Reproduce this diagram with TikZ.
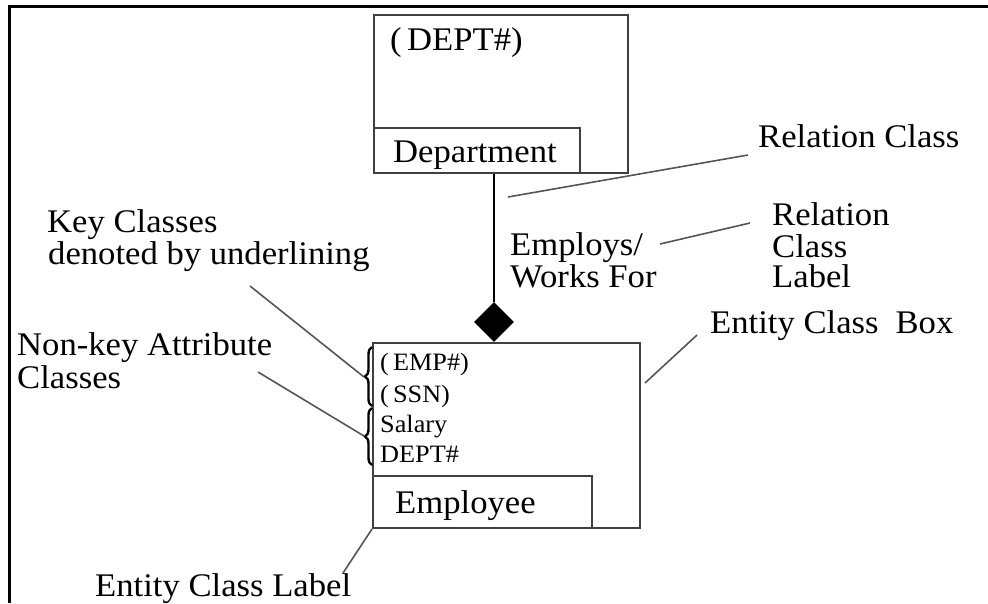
\documentclass[tikz,border=0pt]{standalone}
\usepackage{fontspec}
\setmainfont{Liberation Serif}[FakeStretch=1.05]
\usetikzlibrary{shapes.geometric,decorations.pathreplacing}
\definecolor{boxgray}{HTML}{404040}
\definecolor{leadgray}{HTML}{555555}
\begin{document}
\begin{tikzpicture}[x=1pt,y=-1pt,
  ebox/.style={draw=boxgray, line width=2pt, inner sep=0pt, rectangle},
  lbl/.style={anchor=base west, inner sep=0pt, font=\fontsize{33}{38}\selectfont},
  attr/.style={anchor=base west, inner sep=0pt, font=\fontsize{25}{28}\selectfont},
  leader/.style={draw=leadgray, line width=1.6pt},
  bracestyle/.style={draw=black, line width=2.4pt, decorate, decoration={brace, amplitude=7pt}},
  frame/.style={draw=black, line width=3pt}]
\useasboundingbox (0,0) rectangle (988,603);
% frame
\coordinate (fTL) at (9,6);
\coordinate (fTR) at (988,6);
\coordinate (fBL) at (9,603);
\draw[frame] (fTR) -- (fTL) -- (fBL);
% Department
\node[ebox, minimum width=254pt, minimum height=158pt] (dept) at (501,94) {};
\node[ebox, anchor=south west, minimum width=206pt, minimum height=45pt] (deptlab) at (dept.south west) {};
\node[lbl] (deptkey) at (390,50) {(\,DEPT\#)};
\node[lbl] (deptname) at (393,162) {Department};
% Employee
\node[ebox, minimum width=267pt, minimum height=185pt] (emp) at (506.5,435.5) {};
\node[ebox, anchor=south west, minimum width=219pt, minimum height=52pt] (emplab) at (emp.south west) {};
\node[lbl] (empname) at (395,513) {Employee};
\node[attr] (a1) at (380,370) {(\,EMP\#)};
\node[attr] (a2) at (380,402) {(\,SSN)};
\node[attr] (a3) at (380,432) {Salary};
\node[attr] (a4) at (380,462) {DEPT\#};
% braces
\coordinate (b1s) at (372,406);
\coordinate (b1e) at (372,347);
\coordinate (b2s) at (372,465);
\coordinate (b2e) at (372,408);
\draw[bracestyle] (b1s) -- (b1e);
\draw[bracestyle] (b2s) -- (b2e);
\coordinate (keytip) at (364,377);
\coordinate (nktip) at (364,436);
% relation
\node[diamond, fill=black, inner sep=0pt, minimum width=40pt, minimum height=40pt] (dia) at (494,322) {};
\draw[draw=black, line width=2pt] (dia.north) -- (dia.north |- dept.south);
\node[lbl] (rel1) at (510,255) {Employs/};
\node[lbl] (rel2) at (510,287) {Works For};
% annotations
\node[lbl] (tRC) at (758,147) {Relation Class};
\node[lbl] (tRCL1) at (772,225) {Relation};
\node[lbl] (tRCL2) at (772,257) {Class};
\node[lbl] (tRCL3) at (772,287) {Label};
\node[lbl] (tKey1) at (47,232) {Key Classes};
\node[lbl] (tKey2) at (48,264) {denoted by underlining};
\node[lbl] (tNK1) at (17,355) {Non-key Attribute};
\node[lbl] (tNK2) at (17,388) {Classes};
\node[lbl] (tECB) at (710,333) {Entity Class\hspace{0.25em} Box};
\node[lbl] (tECL) at (95,596) {Entity Class Label};
% leaders
\coordinate (relc1) at (508,197);
\coordinate (relc2) at (748,155);
\coordinate (rcl1) at (660,244);
\coordinate (rcl2) at (750,223);
\coordinate (key1) at (250,286);
\coordinate (nk1) at (258,372);
\coordinate (ecb1) at (645,383);
\coordinate (ecb2) at (697,335);
\coordinate (ecl2) at (343,573);
\draw[leader] (relc1) -- (relc2);
\draw[leader] (rcl1) -- (rcl2);
\draw[leader] (key1) -- (keytip);
\draw[leader] (nk1) -- (nktip);
\draw[leader] (ecb1) -- (ecb2);
\draw[leader] (emp.south west) -- (ecl2);
\end{tikzpicture}
\end{document}
